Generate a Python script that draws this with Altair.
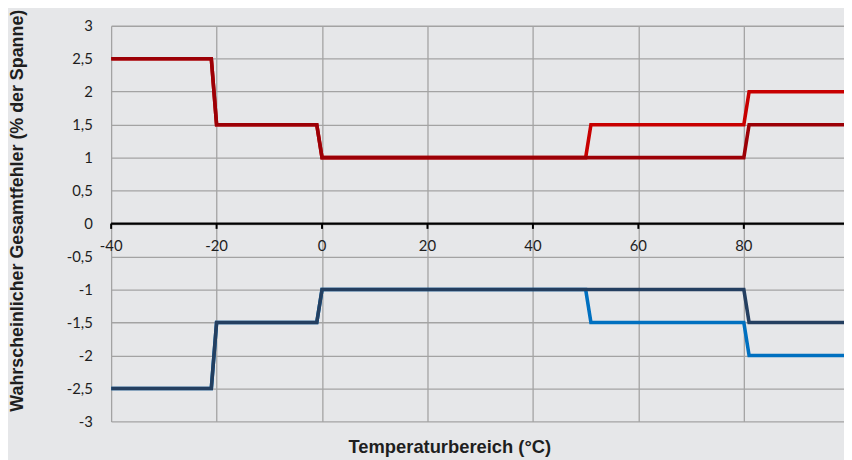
import altair as alt
import pandas as pd

# ---- data ----
x_ticks = [-40, -20, 0, 20, 40, 60, 80]
x_tick_labels = ["-40", "-20", "0", "20", "40", "60", "80"]
y_ticks = [-3, -2.5, -2, -1.5, -1, -0.5, 0, 0.5, 1, 1.5, 2, 2.5, 3]

# standard series (dark red / navy)
x_std = [-40, -21, -20, -1, 0, 80, 81, 100]
up_std = [2.5, 2.5, 1.5, 1.5, 1, 1, 1.5, 1.5]
lo_std = [-2.5, -2.5, -1.5, -1.5, -1, -1, -1.5, -1.5]

# extended series (bright red / blue)
x_ext = [-40, -21, -20, -1, 0, 50, 51, 80, 81, 100]
up_ext = [2.5, 2.5, 1.5, 1.5, 1, 1, 1.5, 1.5, 2, 2]
lo_ext = [-2.5, -2.5, -1.5, -1.5, -1, -1, -1.5, -1.5, -2, -2]

colors = {"up_std": "#9c0006", "up_ext": "#c80000", "lo_std": "#243f60", "lo_ext": "#0070c0"}

grid_col = "#a3a3a3"
text_col = "#1e1e1e"

xscale = alt.Scale(domain=[-40, 99], nice=False, zero=False)
yscale = alt.Scale(domain=[-3, 3], nice=False, zero=False)

x_axis = alt.Axis(values=x_ticks, grid=True, gridColor=grid_col, gridWidth=1.3,
                  labels=False, ticks=False, domain=False,
                  title="Temperaturbereich (°C)", titleFont="Liberation Sans",
                  titleFontSize=18.5, titleFontWeight="bold", titleColor=text_col,
                  titleX=341, titleY=25, titleBaseline="middle", titleAlign="center")
y_axis = alt.Axis(values=y_ticks, grid=True, gridColor=grid_col, gridWidth=1.3,
                  ticks=False, domain=False, labelPadding=19, labelOverlap=False,
                  labelFont="Lato", labelFontSize=15, labelColor=text_col,
                  labelExpr="replace(toString(datum.value), '.', ',')",
                  title="Wahrscheinlicher Gesamtfehler (% der Spanne)",
                  titleFont="Liberation Sans", titleFontSize=18, titleFontWeight="bold",
                  titleColor=text_col, titleX=-94, titleY=186,
                  titleBaseline="middle", titleAlign="center")


def series(xs, ys, key):
    df = pd.DataFrame({"x": xs, "y": ys})
    return alt.Chart(df).mark_line(color=colors[key], strokeWidth=3.6, clip=True,
                                   strokeJoin="miter").encode(
        x=alt.X("x:Q", scale=xscale, axis=x_axis),
        y=alt.Y("y:Q", scale=yscale, axis=y_axis),
    )


tick_df = pd.DataFrame({"x": x_ticks, "label": x_tick_labels})

zero_line = alt.Chart(pd.DataFrame({"y": [0]})).mark_rule(color="black", strokeWidth=2.2).encode(
    y=alt.Y("y:Q", scale=yscale, axis=y_axis)
)
zero_ticks = alt.Chart(tick_df).mark_rule(color="black", strokeWidth=2).encode(
    x=alt.X("x:Q", scale=xscale, axis=x_axis),
    y=alt.YDatum(0, scale=yscale, axis=y_axis),
    y2=alt.Y2Datum(-0.08),
)
x_labels = alt.Chart(tick_df).mark_text(dy=23, font="Lato", fontSize=15, color=text_col,
                                        baseline="middle", align="center").encode(
    x=alt.X("x:Q", scale=xscale, axis=x_axis),
    y=alt.YDatum(0, scale=yscale, axis=y_axis),
    text="label:N",
)

chart = alt.layer(
    zero_line,
    zero_ticks,
    x_labels,
    series(x_ext, up_ext, "up_ext"),
    series(x_std, up_std, "up_std"),
    series(x_ext, lo_ext, "lo_ext"),
    series(x_std, lo_std, "lo_std"),
).properties(
    width=739,
    height=399,
    padding={"left": 104, "top": 16, "right": 0, "bottom": 37},
    autosize=alt.AutoSizeParams(type="none"),
    background="#e6e7e9",
).configure_view(stroke=None)

chart.save("out.html", embed_options={"renderer": "svg", "actions": False})
